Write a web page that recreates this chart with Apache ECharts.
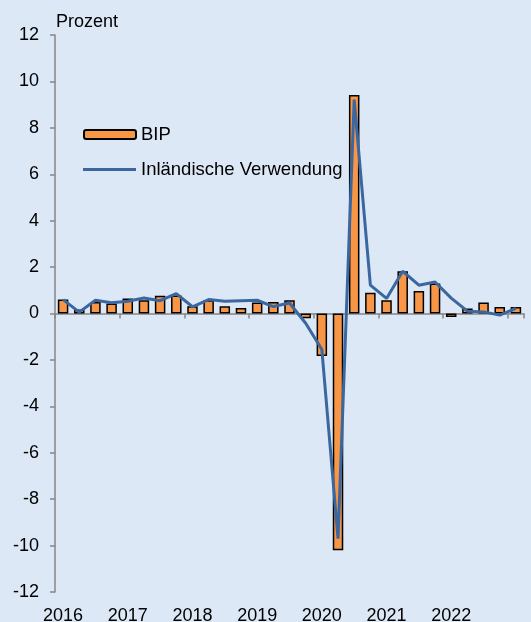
<!DOCTYPE html>
<html>
<head>
<meta charset="utf-8">
<script src="https://cdn.jsdelivr.net/npm/echarts@6/dist/echarts.min.js"></script>
<style>
  html, body { margin: 0; padding: 0; background: #dce8f6; }
  #chart { width: 531px; height: 622px; }
</style>
</head>
<body>
<div id="chart"></div>
<script>
// Quartale 2016 Q1 bis 2023 Q1
const quarters = [
  '2016 Q1', '2016 Q2', '2016 Q3', '2016 Q4',
  '2017 Q1', '2017 Q2', '2017 Q3', '2017 Q4',
  '2018 Q1', '2018 Q2', '2018 Q3', '2018 Q4',
  '2019 Q1', '2019 Q2', '2019 Q3', '2019 Q4',
  '2020 Q1', '2020 Q2', '2020 Q3', '2020 Q4',
  '2021 Q1', '2021 Q2', '2021 Q3', '2021 Q4',
  '2022 Q1', '2022 Q2', '2022 Q3', '2022 Q4',
  '2023 Q1'
]
const yearLabels = ['2016', '2017', '2018', '2019', '2020', '2021', '2022']

const bip = [
  0.60, 0.17, 0.50, 0.43,
  0.65, 0.57, 0.76, 0.78,
  0.31, 0.57, 0.31, 0.24,
  0.47, 0.50, 0.57, -0.20,
  -1.83, -10.2, 9.41, 0.89,
  0.57, 1.82, 0.97, 1.29,
  -0.15, 0.22, 0.47, 0.28,
  0.28
]
const inlVerwendung = [
  0.60, 0.06, 0.57, 0.46,
  0.53, 0.67, 0.55, 0.86,
  0.29, 0.60, 0.53, 0.55,
  0.57, 0.30, 0.45, -0.42,
  -1.55, -9.7, 9.22, 1.22,
  0.65, 1.82, 1.22, 1.36,
  0.66, 0.10, 0.07, -0.07,
  0.22
]
const yTicks = { min: -12, max: 12, interval: 2 }

const fontFamily = '"Liberation Sans", Arial, sans-serif'
const axisGrey = '#868686'
const blue = '#3a67a0'

const chart = echarts.init(document.getElementById('chart'))
chart.setOption({
  backgroundColor: '#dce8f6',
  textStyle: { fontFamily: fontFamily },
  graphic: [
    {
      type: 'text',
      left: 56,
      top: 13,
      style: { text: 'Prozent', fill: '#000', font: '18px ' + fontFamily }
    }
  ],
  legend: [
    {
      data: ['BIP'],
      left: 83,
      top: 125,
      padding: 0,
      itemWidth: 52,
      itemHeight: 9,
      textStyle: { fontSize: 18.5, color: '#000', fontFamily: fontFamily }
    },
    {
      data: [{ name: 'Inländische Verwendung', icon: 'rect' }],
      left: 83,
      top: 160,
      padding: 0,
      itemWidth: 53,
      itemHeight: 3,
      itemStyle: { color: blue },
      textStyle: { fontSize: 18.5, color: '#000', fontFamily: fontFamily }
    }
  ],
  grid: {
    left: 55,
    right: 7,
    top: 35,
    bottom: 30,
    containLabel: false,
    outerBoundsMode: 'none'
  },
  xAxis: [
    {
      type: 'category',
      data: quarters,
      boundaryGap: true,
      axisLine: { onZero: true, lineStyle: { color: axisGrey, width: 1.5 } },
      axisTick: { show: true, interval: 3, length: 5, inside: false, lineStyle: { color: axisGrey, width: 1.5 } },
      axisLabel: { show: false },
      splitLine: { show: false }
    },
    {
      type: 'category',
      data: quarters,
      position: 'bottom',
      boundaryGap: true,
      axisLine: { show: false, onZero: false },
      axisTick: { show: false },
      axisLabel: {
        show: true,
        interval: 3,
        margin: 15,
        fontSize: 18,
        color: '#000',
        fontFamily: fontFamily,
        formatter: (value) => {
          const year = value.split(' ')[0]
          return yearLabels.indexOf(year) >= 0 ? year : ''
        }
      },
      splitLine: { show: false }
    }
  ],
  yAxis: {
    type: 'value',
    min: yTicks.min,
    max: yTicks.max,
    interval: yTicks.interval,
    axisLine: { show: true, lineStyle: { color: axisGrey, width: 1.5 } },
    axisTick: { show: true, length: 5, lineStyle: { color: axisGrey, width: 1.5 } },
    axisLabel: { margin: 16, fontSize: 18, color: '#000', fontFamily: fontFamily },
    splitLine: { show: false }
  },
  series: [
    {
      name: 'BIP',
      type: 'bar',
      xAxisIndex: 0,
      data: bip,
      barWidth: 10.5,
      itemStyle: { color: '#f79646', borderColor: '#000', borderWidth: 1.5 },
      silent: true
    },
    {
      name: 'Inländische Verwendung',
      type: 'line',
      xAxisIndex: 0,
      data: inlVerwendung,
      symbol: 'none',
      lineStyle: { color: blue, width: 3 },
      itemStyle: { color: blue },
      silent: true
    }
  ],
  animation: false
})
</script>
</body>
</html>
